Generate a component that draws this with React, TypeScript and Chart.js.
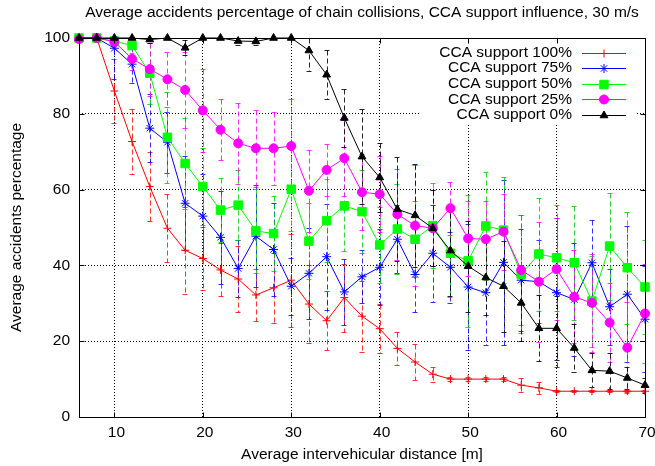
import React, { useEffect, useRef } from 'react';
import { Chart, registerables } from 'chart.js';
import { drawPoint } from 'chart.js/helpers';

Chart.register(...registerables);

const FONT = '"Liberation Sans", Arial, Helvetica, sans-serif';

const titleText = 'Average accidents percentage of chain collisions, CCA support influence, 30 m/s';
const xTitle = 'Average intervehicular distance [m]';
const yTitle = 'Average accidents percentage';

const distances = [6, 8, 10, 12, 14, 16, 18, 20, 22, 24, 26, 28, 30, 32, 34, 36, 38, 40, 42, 44, 46, 48, 50, 52, 54, 56, 58, 60, 62, 64, 66, 68, 70];
const xTicks = [10, 20, 30, 40, 50, 60, 70];
const yTicks = [0, 20, 40, 60, 80, 100];

const seriesLabels = ['CCA support 100%', 'CCA support 75%', 'CCA support 50%', 'CCA support 25%', 'CCA support 0%'];

const cca100 = [100, 100, 86.0, 72.7, 60.8, 49.8, 44.0, 41.8, 38.8, 36.4, 32.2, 34.1, 36.1, 29.8, 25.4, 31.5, 26.6, 23.3, 18.1, 14.5, 11.3, 10.0, 10.0, 10.0, 10.0, 8.4, 7.7, 6.8, 6.8, 6.8, 6.8, 6.8, 6.8];
const cca100Err = [0, 0, 8.5, 8.5, 9, 9, 11.5, 8.3, 7, 8.8, 6.8, 9.2, 12.3, 10.4, 7.8, 9, 9.4, 6.4, 4.4, 4.7, 2, 0.5, 0.5, 0.5, 0.5, 1.8, 1.5, 0.3, 0.3, 0.3, 0.3, 0.3, 0.3];

const cca75 = [100, 100, 97.3, 93.1, 76.2, 72.5, 56.4, 53.0, 47.4, 39.2, 47.7, 44.2, 34.5, 37.9, 42.3, 33.0, 37.0, 39.5, 46.9, 37.6, 43.2, 39.5, 34.3, 32.8, 40.8, 36.1, 35.7, 32.8, 31.0, 40.7, 29.1, 32.4, 25.8];
const cca75Err = [0, 0, 8, 5, 9, 8, 12.4, 11, 12.2, 7.5, 13.5, 12.2, 7.5, 12, 14, 8.8, 7, 10, 9, 10, 12.8, 9.4, 16.5, 13.8, 21.7, 13.5, 11, 19.6, 15, 11.3, 10, 18, 14];

const cca50 = [100, 100, 99.2, 98.0, 90.7, 73.8, 66.9, 60.8, 54.6, 55.9, 49.1, 48.4, 60.1, 46.4, 51.8, 55.7, 54.2, 45.4, 49.6, 46.9, 50.5, 43.2, 41.2, 50.4, 49.3, 37.7, 43.0, 42.0, 40.7, 30.6, 45.1, 39.4, 34.3];
const cca50Err = [0, 0, 1, 2, 8, 12, 12, 10.2, 8.5, 9.2, 11, 10, 11, 10, 11, 12, 11, 10, 12, 10, 11.2, 11.5, 17.4, 14.3, 14, 15.6, 14.9, 14, 15, 12, 14.1, 14.8, 12.4];

const cca25 = [99.7, 100, 99.0, 94.5, 91.8, 89.1, 86.3, 80.9, 75.8, 72.2, 70.9, 70.9, 71.5, 59.7, 65.2, 68.3, 59.3, 58.8, 53.5, 50.5, 49.8, 55.1, 47.1, 46.9, 48.9, 38.8, 35.7, 39.0, 31.7, 30.1, 24.9, 18.3, 27.3];
const cca25Err = [0.5, 0, 1, 3, 7, 7.3, 10, 10.9, 8, 10.6, 10.1, 9.7, 12.4, 10.8, 6.8, 10, 10, 10, 12, 16, 10, 7, 10, 10, 10, 14.5, 15.8, 13.4, 12.3, 13, 10.5, 12, 13];

const cca0 = [100, 100, 100, 100, 99.6, 100, 97.4, 100, 100, 99.2, 99.1, 100, 100, 96.7, 90.3, 78.9, 68.7, 63.2, 54.8, 53.2, 49.8, 43.9, 39.8, 36.8, 34.5, 30.1, 23.4, 23.4, 18.2, 12.3, 12.1, 10.3, 8.4];
const cca0Err = [0, 0, 0, 0, 1, 0, 2, 0, 0, 1, 1, 0, 0, 5.3, 6.5, 7.6, 12.6, 9.2, 13.7, 13.5, 10, 12, 12, 10, 12, 10, 8.7, 8.4, 6.3, 4.5, 4.8, 3, 2];

const seriesValues = [cca100, cca75, cca50, cca25, cca0];
const seriesErrors = [cca100Err, cca75Err, cca50Err, cca25Err, cca0Err];
const seriesColors = ['#ff0000', '#0000ff', '#00c800', '#ff00ff', '#000000'];
const lineColors = ['#ff0000', '#0000ff', '#00ff00', '#ff00ff', '#000000'];
const errColors = ['rgba(255,0,0,0.8)', 'rgba(0,0,255,0.8)', 'rgba(0,200,0,0.8)', 'rgba(255,0,255,0.8)', 'rgba(0,0,0,0.85)'];
const pointStyles = ['cross', 'star', 'rect', 'circle', 'triangle'];
const pointRadii = [4, 4.5, 6, 4.5, 4.5];

const gnuplotPlugin = {
  id: 'gnuplotDecor',
  beforeDatasetsDraw(chart: any) {
    const { ctx, chartArea: a, scales } = chart;
    const xs = scales.x;
    const ys = scales.y;
    ctx.save();
    // opaque key area
    ctx.fillStyle = '#ffffff';
    ctx.fillRect(420, a.top + 1, 216, 84);
    // error bars
    ctx.beginPath();
    ctx.rect(a.left, a.top, a.right - a.left, a.bottom - a.top);
    ctx.clip();
    ctx.lineWidth = 1;
    ctx.setLineDash([5, 3]);
    seriesValues.forEach((vals, si) => {
      ctx.strokeStyle = errColors[si];
      distances.forEach((d, i) => {
        const e = seriesErrors[si][i];
        if (!e) return;
        const px = Math.round(xs.getPixelForValue(d)) + 0.5;
        const yt = Math.round(ys.getPixelForValue(vals[i] + e)) + 0.5;
        const yb = Math.round(ys.getPixelForValue(vals[i] - e)) + 0.5;
        ctx.beginPath();
        ctx.moveTo(px, yt);
        ctx.lineTo(px, yb);
        ctx.moveTo(px - 3, yt);
        ctx.lineTo(px + 3, yt);
        ctx.moveTo(px - 3, yb);
        ctx.lineTo(px + 3, yb);
        ctx.stroke();
      });
    });
    ctx.restore();
  },
  afterDraw(chart: any) {
    const { ctx, chartArea: a, scales } = chart;
    const xs = scales.x;
    const ys = scales.y;
    ctx.save();
    // frame
    ctx.strokeStyle = '#000';
    ctx.lineWidth = 1;
    ctx.setLineDash([]);
    const L = Math.round(a.left) + 0.5;
    const R = Math.round(a.right) + 0.5;
    const T = Math.round(a.top) + 0.5;
    const B = Math.round(a.bottom) + 0.5;
    ctx.strokeRect(L, T, R - L, B - T);
    // inward tick marks (mirrored)
    const tl = 5;
    ctx.beginPath();
    xTicks.forEach((v) => {
      const px = Math.round(xs.getPixelForValue(v)) + 0.5;
      ctx.moveTo(px, B);
      ctx.lineTo(px, B - tl);
      ctx.moveTo(px, T);
      ctx.lineTo(px, T + tl);
    });
    yTicks.forEach((v) => {
      const py = Math.round(ys.getPixelForValue(v)) + 0.5;
      ctx.moveTo(L, py);
      ctx.lineTo(L + tl, py);
      ctx.moveTo(R, py);
      ctx.lineTo(R - tl, py);
    });
    ctx.stroke();
    // title
    ctx.fillStyle = '#000';
    ctx.font = `15.5px ${FONT}`;
    ctx.textAlign = 'center';
    ctx.textBaseline = 'middle';
    ctx.fillText(titleText, (a.left + a.right) / 2, 13);
    // key
    const textRight = 572;
    const x1 = 582;
    const x2 = 626;
    seriesLabels.forEach((lab, i) => {
      const yy = 52.5 + i * 15.6;
      ctx.fillStyle = '#000';
      ctx.textAlign = 'right';
      ctx.fillText(lab, textRight, yy);
      ctx.strokeStyle = lineColors[i];
      ctx.fillStyle = lineColors[i];
      ctx.lineWidth = 1;
      ctx.beginPath();
      ctx.moveTo(x1, Math.round(yy) + 0.5);
      ctx.lineTo(x2, Math.round(yy) + 0.5);
      ctx.stroke();
      drawPoint(ctx, { pointStyle: pointStyles[i], radius: pointRadii[i], borderWidth: 1, rotation: 0 } as any, (x1 + x2) / 2, Math.round(yy) + 0.5);
    });
    ctx.restore();
  },
};

export default function App() {
  const ref = useRef<HTMLCanvasElement | null>(null);
  useEffect(() => {
    document.body.style.margin = '0';
    const canvas = ref.current;
    if (!canvas) return;
    const datasets = seriesValues.map((vals, i) => ({
      label: seriesLabels[i],
      data: distances.map((d, j) => ({ x: d, y: vals[j] })),
      borderColor: lineColors[i],
      backgroundColor: lineColors[i],
      borderWidth: 1,
      pointStyle: pointStyles[i],
      pointRadius: pointRadii[i],
      pointBorderWidth: 1,
      pointBackgroundColor: lineColors[i],
      pointBorderColor: lineColors[i],
      pointHoverRadius: pointRadii[i],
      tension: 0,
      clip: false as any,
      order: 5 - i,
    }));
    const chart = new Chart(canvas, {
      type: 'line',
      data: { datasets },
      plugins: [gnuplotPlugin],
      options: {
        animation: false,
        responsive: false,
        devicePixelRatio: 1,
        layout: { padding: { left: 0, right: 10, top: 38, bottom: 0 } },
        plugins: { legend: { display: false }, tooltip: { enabled: false }, title: { display: false } },
        scales: {
          x: {
            type: 'linear',
            min: 6,
            max: 70,
            afterBuildTicks: (s: any) => {
              s.ticks = xTicks.map((v) => ({ value: v }));
            },
            afterFit: (s: any) => {
              s.height = 49;
              s.paddingLeft = 0;
              s.paddingRight = 0;
            },
            grid: { color: '#000', lineWidth: 1, drawTicks: false },
            border: { display: false, dash: [1, 2] },
            ticks: {
              font: { family: FONT, size: 15.5 },
              color: '#000',
              padding: 6,
              labelOffset: 2,
              maxRotation: 0,
              autoSkip: false,
            },
            title: {
              display: true,
              text: xTitle,
              color: '#000',
              font: { family: FONT, size: 15.5, lineHeight: 1.2 },
              padding: { top: 0, bottom: 2 },
            },
          },
          y: {
            type: 'linear',
            min: 0,
            max: 100,
            afterBuildTicks: (s: any) => {
              s.ticks = yTicks.map((v) => ({ value: v }));
            },
            afterFit: (s: any) => {
              s.width = 79;
              s.paddingTop = 0;
              s.paddingBottom = 0;
            },
            grid: { color: '#000', lineWidth: 1, drawTicks: false },
            border: { display: false, dash: [1, 2] },
            ticks: {
              font: { family: FONT, size: 15.5 },
              color: '#000',
              padding: 9,
              autoSkip: false,
            },
            title: {
              display: true,
              text: yTitle,
              color: '#000',
              font: { family: FONT, size: 15.5, lineHeight: 1.2 },
              padding: { top: 7, bottom: 0 },
            },
          },
        },
      },
    });
    return () => chart.destroy();
  }, []);
  return (
    <div style={{ width: 655, height: 466 }}>
      <canvas ref={ref} width={655} height={466} style={{ display: 'block' }} />
    </div>
  );
}
